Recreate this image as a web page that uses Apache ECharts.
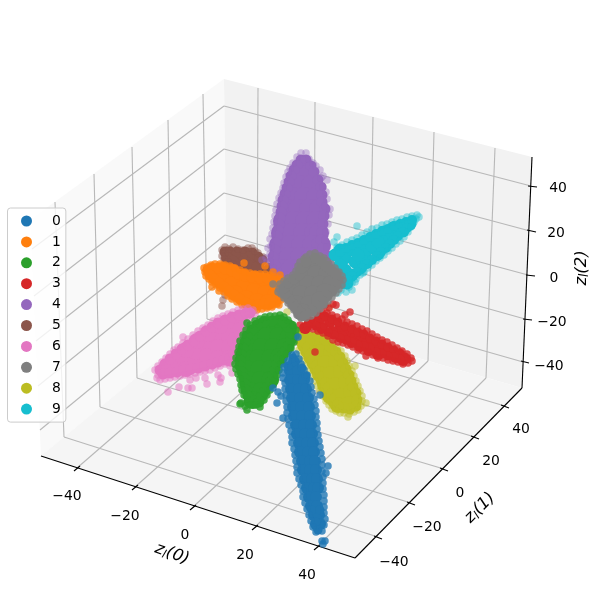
<!DOCTYPE html>
<html>
<head>
<meta charset="utf-8">
<script src="https://cdn.jsdelivr.net/npm/echarts@6/dist/echarts.min.js"></script>
<style>html,body{margin:0;padding:0;background:#fff}#c{width:600px;height:600px}</style>
</head>
<body>
<div id="c"></div>
<script>
// All values are on the projected picture plane of the 3D view (x right, y down).
const categories = ['0','1','2','3','4','5','6','7','8','9'];
const palette = ['#1f77b4','#ff7f0e','#2ca02c','#d62728','#9467bd','#8c564b','#e377c2','#7f7f7f','#bcbd22','#17becf'];
const drawOrder = [5,4,9,1,8,3,7,6,2,0];
const pointAlpha = [0.8,0.8,0.85,0.8,0.4,0.5,0.55,0.8,0.5,0.45];
const coreSize = [12,16,18,12,20,14,16,18,16,13];
const midSize = [9,11,11,9,11,11,11,11,11,10];

const class0Core = [[294,362],[290,371],[298,371],[290,380],[298,380],[304,380],[291,389],[299,389],[306,389],[292,398],[300,398],[308,398],[293,407],[301,407],[309,407],[294,416],[302,416],[310,416],[296,425],[304,425],[311,425],[297,434],[305,434],[312,434],[299,443],[307,443],[313,443],[300,452],[308,452],[314,452],[302,461],[310,461],[315,461],[303,470],[310,470],[316,470],[305,479],[312,479],[317,479],[307,488],[314,488],[318,488],[309,497],[316,497],[311,506],[317,506],[314,515],[319,515],[316,524],[320,524]];
const class0Mid = [[293,358],[288,366],[302,368],[306,376],[316,522],[318,530],[312,510],[320,510]];
const class0Edge = [[292,355],[288,361],[284,367],[283,373],[283,378],[285,383],[285,389],[286,395],[286,401],[287,407],[287,413],[288,419],[289,425],[291,431],[292,437],[292,443],[294,449],[295,455],[296,461],[297,467],[297,473],[299,479],[301,485],[303,491],[303,497],[305,503],[307,509],[309,515],[311,521],[313,527],[316,532],[322,541],[323,544],[325,541],[296,354],[299,359],[301,364],[304,370],[307,375],[310,381],[311,387],[312,393],[314,399],[315,405],[316,411],[316,417],[317,423],[317,429],[318,435],[319,441],[320,447],[321,453],[322,459],[322,465],[322,471],[323,477],[323,483],[323,489],[324,495],[324,501],[324,507],[324,513],[325,519],[324,525],[322,531],[328,466],[326,473],[273,388],[277,403],[283,418],[281,396],[278,392],[320,395],[298,337]];

const class1Core = [[213,272],[222,270],[232,272],[243,277],[254,279],[265,281],[275,284],[222,280],[232,284],[243,288],[254,291],[265,293],[275,295],[235,293],[246,298],[257,301],[268,302],[278,290],[282,285]];
const class1Mid = [[208,270],[212,268],[218,268],[225,269],[232,271],[238,274],[245,276],[252,277],[260,278],[268,279],[275,281],[282,283],[210,275],[214,279],[219,283],[224,287],[229,291],[234,295],[240,299],[246,303],[252,305],[258,305],[264,304],[270,303],[276,300],[281,296],[284,291]];
const class1Edge = [[205,272],[204,268],[207,267],[211,265],[215,264],[220,264],[225,265],[230,266],[235,268],[240,270],[245,272],[250,273],[255,274],[260,274],[265,274],[270,275],[275,277],[280,279],[206,276],[209,279],[212,282],[216,285],[220,288],[224,292],[228,296],[232,299],[237,302],[242,305],[247,308],[252,310],[257,310],[262,309],[267,308],[272,307],[277,304],[281,300],[285,295],[244,263],[265,266],[219,291],[212,287],[273,272],[273,305],[279,305],[287,283],[280,275]];

const class2Core = [[265,325],[278,324],[288,328],[254,335],[266,336],[278,336],[288,338],[249,347],[261,347],[273,347],[285,347],[246,358],[258,358],[270,358],[279,357],[247,369],[259,369],[270,369],[249,380],[260,380],[270,380],[251,391],[261,391],[253,400]];
const class2Mid = [[280,320],[272,321],[264,322],[257,325],[252,330],[247,336],[245,342],[243,348],[241,354],[240,360],[240,366],[242,372],[244,378],[245,384],[246,390],[248,396],[249,402],[254,401],[259,402],[262,396],[265,391],[268,386],[271,381],[273,375],[275,370],[277,364],[279,358],[283,354],[286,350],[289,345],[291,340],[291,333],[288,327],[284,322]];
const class2Edge = [[280,315],[275,316],[270,316],[265,317],[260,319],[255,321],[250,325],[246,330],[243,335],[240,341],[239,347],[238,352],[236,358],[235,364],[236,369],[238,374],[240,379],[241,385],[242,390],[244,395],[241,403],[245,406],[247,410],[251,405],[256,405],[260,407],[264,400],[267,395],[270,390],[273,385],[275,380],[277,375],[279,370],[281,364],[283,359],[287,354],[291,348],[294,342],[296,336],[296,330],[293,325],[288,320],[284,317],[247,323],[240,404]];

const class3Core = [[310,322],[320,318],[330,322],[322,328],[340,328],[332,332],[348,332],[342,337],[356,337],[352,342],[364,342],[372,346],[380,350],[388,353],[396,357],[403,360],[360,346],[369,350],[378,354],[305,328]];
const class3Mid = [[318,315],[325,316],[332,319],[338,322],[345,326],[352,329],[358,332],[364,334],[370,338],[376,341],[382,344],[388,347],[394,350],[400,353],[405,357],[407,359],[400,359],[394,357],[388,356],[382,354],[376,352],[370,348],[364,346],[358,345],[352,342],[346,340],[340,338],[334,335],[328,332],[322,328],[316,326],[308,326]];
const class3Edge = [[317,310],[322,311],[327,313],[332,315],[337,317],[342,319],[347,322],[352,324],[357,326],[362,329],[367,331],[372,334],[377,337],[382,340],[387,342],[392,345],[397,348],[402,351],[407,354],[411,358],[412,361],[408,363],[403,364],[398,362],[393,361],[388,360],[383,358],[378,358],[373,355],[368,352],[363,351],[358,350],[353,347],[348,345],[343,343],[338,342],[333,340],[328,336],[323,333],[318,331],[313,329],[306,330],[300,325],[315,352],[366,356],[350,312],[336,305],[329,308],[333,304],[345,315],[325,305]];

const class4Core = [[305,172],[299,185],[311,185],[292,197],[304,197],[316,197],[287,209],[298,209],[309,209],[319,209],[283,221],[294,221],[305,221],[316,221],[281,233],[292,233],[303,233],[314,233],[319,233],[279,245],[290,245],[301,245],[312,245],[321,245],[278,257],[289,257],[300,257],[311,257],[322,257],[280,269],[291,269],[302,269],[313,269],[324,269],[292,281],[304,281],[316,281],[300,292]];
const class4Mid = [[306,160],[311,166],[314,172],[318,180],[321,187],[322,195],[322,202],[325,209],[324,216],[323,224],[322,232],[321,240],[323,248],[325,256],[327,264],[301,160],[297,165],[294,170],[291,176],[289,182],[287,188],[285,194],[283,200],[282,206],[281,212],[280,218],[279,224],[278,230],[277,236],[276,243],[275,250],[273,257],[275,265]];
const class4Edge = [[301,153],[306,153],[297,157],[309,159],[293,163],[313,163],[316,166],[290,168],[288,172],[286,177],[320,170],[323,176],[327,180],[321,178],[284,183],[283,188],[281,193],[279,198],[323,187],[326,192],[327,199],[325,206],[330,209],[329,215],[328,224],[277,204],[276,210],[275,216],[274,222],[273,228],[272,234],[270,239],[271,246],[326,232],[325,240],[327,247],[330,255],[268,248],[270,254],[266,258],[262,260],[267,262],[331,262],[273,268],[270,262],[334,268]];

const class5Core = [[232,255],[243,255],[254,258],[235,265],[247,266],[258,268],[270,270],[228,258]];
const class5Mid = [[225,252],[230,252],[237,252],[245,252],[252,253],[258,257],[262,260],[228,258],[233,261]];
const class5Edge = [[222,250],[225,253],[222,256],[225,247],[229,249],[233,247],[238,249],[243,250],[248,248],[252,248],[255,251],[258,253],[263,257],[258,258],[224,259],[228,262],[233,264],[266,262],[225,295],[222,306],[277,303],[270,300],[238,299],[223,300]];

const class6Core = [[165,370],[175,365],[185,360],[186,369],[196,362],[196,352],[207,345],[207,356],[218,336],[218,347],[218,358],[229,325],[229,336],[229,347],[229,358],[240,318],[240,330],[186,350],[197,341],[208,334],[220,326],[235,340]];
const class6Mid = [[160,370],[165,364],[170,359],[176,354],[182,349],[188,345],[194,341],[200,336],[206,331],[212,327],[218,323],[225,320],[232,317],[239,315],[246,313],[250,313],[163,374],[170,373],[177,372],[184,370],[191,369],[198,368],[205,366],[212,364],[218,362],[224,360],[230,358],[234,354],[236,347],[238,340],[240,335]];
const class6Edge = [[155,370],[158,366],[162,362],[166,358],[170,354],[174,350],[178,347],[183,343],[188,339],[193,335],[198,331],[203,328],[208,325],[213,321],[218,318],[223,316],[228,314],[233,312],[238,310],[243,309],[248,308],[253,310],[255,315],[250,318],[158,375],[160,380],[165,379],[170,378],[175,377],[180,376],[185,375],[190,374],[195,373],[200,372],[205,371],[210,370],[215,368],[220,366],[225,364],[230,363],[235,360],[238,355],[239,348],[241,342],[168,392],[179,387],[188,388],[192,388],[207,384],[220,382],[183,337],[157,378],[218,375],[221,378],[232,373],[230,366],[190,380],[196,378],[205,378]];

const class7Core = [[314,264],[304,272],[316,274],[327,274],[296,283],[308,284],[320,284],[331,284],[289,291],[301,294],[313,294],[325,292],[297,304],[309,304],[320,300],[302,312]];
const class7Mid = [[315,258],[321,261],[326,266],[331,270],[336,274],[338,280],[336,285],[332,291],[327,296],[322,301],[317,306],[312,311],[306,313],[301,313],[297,309],[293,304],[289,299],[285,294],[284,288],[288,283],[294,279],[299,275],[302,268],[306,262]];
const class7Edge = [[315,253],[310,254],[320,256],[306,257],[324,258],[327,261],[331,264],[335,268],[339,272],[342,276],[343,280],[342,285],[339,289],[336,293],[332,297],[328,301],[324,305],[320,309],[316,313],[311,316],[306,318],[301,318],[297,315],[294,310],[291,306],[288,303],[284,298],[281,294],[279,289],[280,284],[284,281],[288,278],[293,275],[296,271],[298,266],[300,262],[304,259],[273,284],[278,292]];

const class8Core = [[303,335],[312,340],[322,342],[310,352],[320,352],[331,352],[315,363],[325,363],[336,362],[320,374],[330,374],[341,372],[325,385],[335,385],[346,382],[330,396],[340,396],[351,392],[338,405],[349,404],[296,335],[305,345]];
const class8Mid = [[330,347],[336,352],[340,357],[343,363],[346,369],[349,375],[351,381],[353,387],[356,393],[357,400],[356,406],[350,409],[344,408],[338,406],[333,402],[330,397],[327,391],[324,386],[321,380],[318,375],[315,369],[312,363],[309,358],[306,352],[304,346],[300,340],[318,336],[325,340]];
const class8Edge = [[333,343],[337,347],[341,351],[345,356],[347,361],[349,366],[352,371],[354,376],[356,381],[358,386],[360,391],[362,396],[362,401],[361,406],[358,410],[354,412],[349,414],[348,417],[344,413],[340,413],[336,411],[332,409],[329,405],[326,401],[323,396],[320,391],[317,386],[315,381],[312,376],[309,371],[306,366],[303,361],[301,356],[299,350],[355,366],[366,403],[329,307],[287,312]];

const class9Core = [[345,258],[352,250],[345,270],[355,262],[363,245],[365,255],[352,275],[360,268],[373,238],[375,249],[367,262],[384,232],[385,242],[378,254],[393,228],[394,236],[402,226],[403,231],[410,224],[340,265],[340,250],[338,278],[347,283],[335,255],[358,255],[372,246],[378,242],[392,233],[398,230]];
const class9Mid = [[340,252],[346,248],[352,245],[358,243],[364,240],[370,237],[376,234],[382,231],[388,229],[394,226],[400,224],[406,222],[412,220],[407,228],[403,232],[398,236],[394,240],[390,244],[386,248],[381,252],[377,256],[372,260],[367,264],[362,268],[357,272],[352,276],[348,280],[343,284]];
const class9Edge = [[337,247],[342,245],[347,242],[352,240],[357,238],[362,235],[367,232],[372,229],[377,228],[382,225],[387,224],[392,222],[397,220],[402,219],[407,217],[412,216],[417,215],[419,217],[416,219],[414,222],[411,227],[408,232],[404,237],[400,241],[396,244],[392,248],[388,251],[384,255],[380,258],[376,261],[372,265],[368,268],[364,272],[360,275],[356,279],[352,283],[349,287],[357,226],[337,237],[334,242],[352,290],[338,293],[341,290],[363,273],[355,282],[346,292]];

const coreData = [class0Core,class1Core,class2Core,class3Core,class4Core,class5Core,class6Core,class7Core,class8Core,class9Core];
const midData = [class0Mid,class1Mid,class2Mid,class3Mid,class4Mid,class5Mid,class6Mid,class7Mid,class8Mid,class9Mid];
const edgeData = [class0Edge,class1Edge,class2Edge,class3Edge,class4Edge,class5Edge,class6Edge,class7Edge,class8Edge,class9Edge];

// Box of the 3D view
const paneLeft = [[224,79,30,220,41,456,227,303]];
const paneRight = [[224,79,532,157,522,388,227,303]];
const paneFloor = [[41,456,355,558,522,388,227,303]];
const gridZLeft = [[224,106,32,249],[224,149,34,296],[224,193,36,341],[225,235,38,386],[226,277,40,430]];
const gridZRight = [[224,106,531,186],[224,149,530,231],[224,193,528,275],[225,235,525,319],[226,277,523,362]];
const gridYWall = [[55,202,64,437],[94,174,100,407],[132,147,137,378],[168,120,172,349],[203,94,207,319]];
const gridXWall = [[258,88,257,312],[315,102,314,328],[373,117,369,344],[434,132,428,361],[495,148,486,378]];
const gridYFloor = [[64,437,378,537],[100,407,411,503],[137,378,444,469],[172,349,475,437],[207,319,505,406]];
const gridXFloor = [[77,468,257,312],[135,487,314,328],[193,507,369,344],[255,527,428,361],[317,547,486,378]];
const axisLines = [[41,456,355,558],[355,558,522,388],[532,157,522,388]];
const tickMarks = [[74,471,80,466],[132,490,138,485],[190,510,196,505],[252,530,258,525],[314,550,320,545],
  [374,536,382,539],[407,502,415,505],[440,468,448,471],[471,436,479,439],[501,405,509,408],
  [528,186,537,187],[527,230,536,232],[526,275,535,276],[523,319,532,320],[521,361,529,363]];

const tickLabelRows = [
  ['−40',67,496],['−20',125,516],['0',185,535],['20',245,555],['40',307,575],
  ['−40',394,562],['−20',427,527],['0',460,493],['20',491,461],['40',521,429],
  ['−40',549,366],['−20',552,322],['0',554,278],['20',556,233],['40',558,188]
];
const axisTitleRows = [
  ['0',172,554,-20],
  ['1',480,508,45],
  ['2',582,268,90]
];

function segmentSeries(rows, color, width) {
  return {
    type: 'custom', data: rows, silent: true, clip: false, animation: false,
    renderItem: function (p, api) {
      const a = api.coord([api.value(0), api.value(1)]);
      const b = api.coord([api.value(2), api.value(3)]);
      return {type:'line', shape:{x1:a[0],y1:a[1],x2:b[0],y2:b[1]}, style:{stroke:color, lineWidth:width}};
    }
  };
}
function paneSeries(rows, color) {
  return {
    type: 'custom', data: rows, silent: true, clip: false, animation: false,
    renderItem: function (p, api) {
      const pts = [0,2,4,6].map(function (i) { return api.coord([api.value(i), api.value(i+1)]); });
      return {type:'polygon', shape:{points:pts}, style:{fill:color, stroke:null}};
    }
  };
}
const fontName = '"DejaVu Sans"';
const series = [
  paneSeries(paneLeft,'#f9f9f9'),
  paneSeries(paneRight,'#f2f2f2'),
  paneSeries(paneFloor,'#f5f5f5')
];
[gridZLeft,gridZRight,gridYWall,gridXWall,gridYFloor,gridXFloor].forEach(function (g) {
  series.push(segmentSeries(g,'#b8b8b8',1.1));
});
series.push(segmentSeries(axisLines,'#000',1.1));
series.push(segmentSeries(tickMarks,'#000',1.1));
drawOrder.forEach(function (k) {
  [[coreData[k],coreSize[k],1],[midData[k],midSize[k],1],[edgeData[k],7.5,pointAlpha[k]]].forEach(function (layer) {
    series.push({type:'scatter', name:categories[k], data:layer[0], symbol:'circle', symbolSize:layer[1],
      itemStyle:{color:palette[k], opacity:layer[2]}, silent:true, animation:false, large:false, progressive:0});
  });
});
series.push({
  type:'custom', data:tickLabelRows, silent:true, clip:false, animation:false,
  encode:{x:1,y:2},
  renderItem:function (p, api) {
    const c = api.coord([api.value(1), api.value(2)]);
    return {type:'text', style:{text:tickLabelRows[p.dataIndex][0], x:c[0], y:c[1], align:'center', verticalAlign:'middle',
      fill:'#000', font:'13.9px '+fontName}};
  }
});
series.push({
  type:'custom', data:axisTitleRows, silent:true, clip:false, animation:false,
  encode:{x:1,y:2},
  renderItem:function (p, api) {
    const row = axisTitleRows[p.dataIndex];
    const c = api.coord([api.value(1), api.value(2)]);
    return {type:'text', x:c[0], y:c[1], rotation:row[3]*Math.PI/180,
      style:{text:'{a|z}{b|l}{a|('+row[0]+')}', x:0, y:0, align:'center', verticalAlign:'middle', fill:'#000',
        rich:{
          a:{fontFamily:'DejaVu Sans', fontStyle:'italic', fontSize:16.5, fill:'#000'},
          b:{fontFamily:'DejaVu Sans', fontStyle:'italic', fontSize:11.5, fill:'#000', padding:[7,0,0,0]}
        }}};
  }
});

const chart = echarts.init(document.getElementById('c'), null, {renderer:'canvas', width:600, height:600});
chart.setOption({
  animation:false,
  backgroundColor:'#fff',
  color:palette,
  grid:{left:0, top:0, width:600, height:600},
  xAxis:{type:'value', min:0, max:600, show:false},
  yAxis:{type:'value', min:0, max:600, inverse:true, show:false},
  legend:{
    data:categories.map(function (n) { return {name:n, icon:'circle', itemStyle:{opacity:1}}; }),
    orient:'vertical', left:7.5, top:208, padding:[6,5,6,13.5],
    itemWidth:11, itemHeight:11, itemGap:6.9, selectedMode:false,
    backgroundColor:'rgba(255,255,255,0.8)', borderColor:'#ccc', borderWidth:1, borderRadius:3,
    textStyle:{fontFamily:'DejaVu Sans', fontSize:13.9, color:'#000', padding:[0,0,0,15], lineHeight:14}
  },
  tooltip:{show:false},
  series:series
});
</script>
</body>
</html>
